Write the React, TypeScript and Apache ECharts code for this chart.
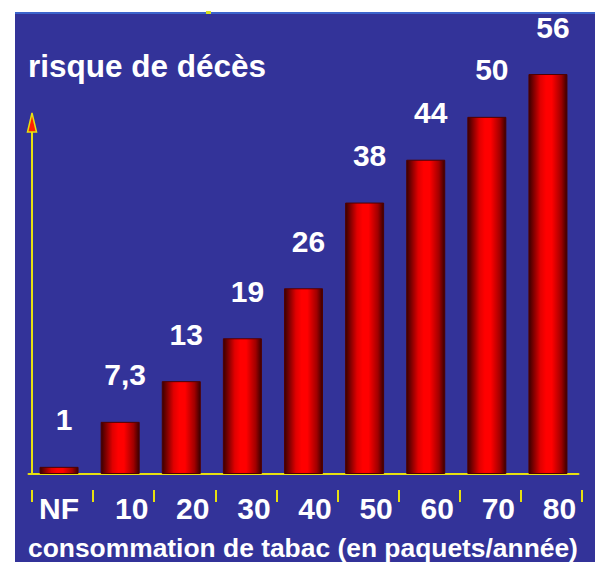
import React, { useEffect, useRef } from "react";
import * as echarts from "echarts";

const categories = ["NF", "10", "20", "30", "40", "50", "60", "70", "80"];
const riskValues = [1, 7.3, 13, 19, 26, 38, 44, 50, 56];
const yTitle = "risque de décès";
const xTitle = "consommation de tabac (en paquets/année)";

const FONT = "'Liberation Sans', Arial, sans-serif";
const YELLOW = "#e8e010";

export default function App() {
  const ref = useRef<HTMLDivElement>(null);
  useEffect(() => {
    if (!ref.current) return;
    const chart = echarts.init(ref.current, null, { renderer: "svg" });
    const barGradient = new echarts.graphic.LinearGradient(0, 0, 1, 0, [
      { offset: 0, color: "#3a0000" },
      { offset: 0.3, color: "#e00000" },
      { offset: 0.45, color: "#ff0000" },
      { offset: 0.6, color: "#ff0000" },
      { offset: 0.85, color: "#a00000" },
      { offset: 1, color: "#3a0000" },
    ]);
    chart.setOption({
      animation: false,
      backgroundColor: "#ffffff",
      graphic: [
        {
          type: "rect",
          z: -10,
          silent: true,
          shape: { x: 15, y: 12, width: 580, height: 550 },
          style: { fill: "#333399" },
        },
        {
          type: "rect",
          z: -9,
          silent: true,
          shape: { x: 15, y: 12, width: 580, height: 2 },
          style: { fill: "#3c64cc" },
        },
        {
          type: "rect",
          z: -8,
          silent: true,
          shape: { x: 206, y: 11, width: 5, height: 3 },
          style: { fill: "#d8e020" },
        },
        {
          type: "line",
          silent: true,
          shape: { x1: 32, y1: 130, x2: 32, y2: 473 },
          style: { stroke: YELLOW, lineWidth: 2 },
        },
        {
          type: "polygon",
          silent: true,
          shape: { points: [[32, 113], [27.5, 132], [36.5, 132]] },
          style: { fill: "#ff2000", stroke: YELLOW, lineWidth: 1.5 },
        },
        {
          type: "text",
          left: 28,
          top: 50,
          style: {
            text: yTitle,
            fill: "#ffffff",
            font: `bold 31.5px ${FONT}`,
          },
        },
        {
          type: "text",
          left: 28,
          top: 535,
          style: {
            text: xTitle,
            fill: "#ffffff",
            font: `bold 26.4px ${FONT}`,
          },
        },
      ],
      grid: [
        { left: 28.5, right: 16.5, top: 74, bottom: 88 },
        { left: 32, right: 13, top: 74, bottom: 88 },
        { left: 32, right: 13, top: 490, height: 12 },
      ],
      xAxis: [
        {
          type: "category",
          gridIndex: 0,
          data: categories,
          offset: 6,
          axisLine: { show: true, lineStyle: { color: YELLOW, width: 2 } },
          axisTick: { show: false },
          axisLabel: { show: false },
          splitLine: { show: false },
        },
        {
          type: "category",
          gridIndex: 1,
          data: categories,
          offset: 16,
          axisLine: { show: false },
          axisTick: { show: false },
          axisLabel: {
            show: true,
            margin: 3,
            formatter: (v: string) => (v === "NF" ? `{f|${v}}` : `{n|${v}}`),
            rich: {
              n: {
                color: "#ffffff",
                fontWeight: "bold",
                fontSize: 30,
                fontFamily: FONT,
                padding: [0, 0, 0, 16],
              },
              f: {
                color: "#ffffff",
                fontWeight: "bold",
                fontSize: 30,
                fontFamily: FONT,
                padding: [0, 7, 0, 0],
              },
            },
          },
          splitLine: { show: false },
        },
        {
          type: "category",
          gridIndex: 2,
          data: categories,
          axisLine: { show: false },
          axisTick: { show: false },
          axisLabel: { show: false },
          splitLine: {
            show: true,
            interval: 0,
            showMinLine: true,
            showMaxLine: true,
            lineStyle: { color: YELLOW, width: 2 },
          },
        },
      ],
      yAxis: [
        { type: "value", gridIndex: 0, min: 0, max: 56, show: false },
        { type: "value", gridIndex: 1, min: 0, max: 56, show: false },
        {
          type: "value",
          gridIndex: 2,
          min: 0,
          max: 1,
          show: true,
          axisLine: { show: false },
          axisTick: { show: false },
          axisLabel: { show: false },
          splitLine: { show: false },
        },
      ],
      series: [
        {
          type: "bar",
          xAxisIndex: 0,
          yAxisIndex: 0,
          data: riskValues,
          barWidth: 39,
          itemStyle: {
            color: barGradient,
            borderColor: "#500000",
            borderWidth: 1,
          },
          label: {
            show: true,
            position: "top",
            distance: 32,
            offset: [5, 0],
            color: "#ffffff",
            fontWeight: "bold",
            fontSize: 30,
            fontFamily: FONT,
            formatter: (p: any) => String(p.value).replace(".", ","),
          },
        },
      ],
    });
    return () => chart.dispose();
  }, []);
  return (
    <div
      ref={ref}
      style={{ position: "absolute", left: 0, top: 0, width: 595, height: 562 }}
    />
  );
}
